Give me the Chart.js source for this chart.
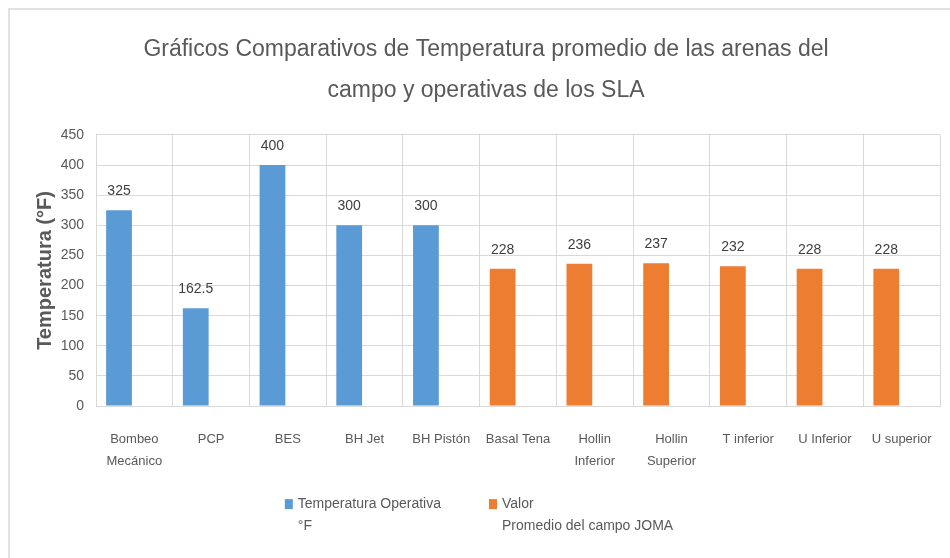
<!DOCTYPE html>
<html>
<head>
<meta charset="utf-8">
<script src="https://cdn.jsdelivr.net/npm/chart.js@4/dist/chart.umd.min.js"></script>
<style>
  html, body { margin: 0; padding: 0; background: #fff; }
  #frame {
    position: absolute; left: 8px; top: 8px; width: 960px; height: 560px;
    border-top: 2px solid #e2e2e2; border-left: 2px solid #e2e2e2;
  }
  #wrap { position: absolute; left: 0; top: 0; width: 950px; height: 558px; }
</style>
</head>
<body>
<div id="frame"></div>
<div id="wrap"><canvas id="temp-chart" width="950" height="558"></canvas></div>
<script>
const categories = [
  ["Bombeo", "Mecánico"], "PCP", "BES", "BH Jet", "BH Pistón", "Basal Tena",
  ["Hollin", "Inferior"], ["Hollin", "Superior"], "T inferior", "U Inferior", "U superior"
];
const operativa = [325, 162.5, 400, 300, 300, null, null, null, null, null, null];
const promedioCampo = [null, null, null, null, null, 228, 236, 237, 232, 228, 228];
const yTicks = [0, 50, 100, 150, 200, 250, 300, 350, 400, 450];
const titleLines = [
  "Gráficos Comparativos de Temperatura promedio de las arenas del",
  "campo y operativas de los SLA"
];
const legendTexts = [
  ["Temperatura Operativa", "°F"],
  ["Valor", "Promedio del campo JOMA"]
];

const FONT = "'Liberation Sans', Arial, sans-serif";
const GREY = "#595959";

// value labels above every bar
const barValues = {
  id: "barValues",
  afterDatasetsDraw(chart) {
    const ctx = chart.ctx;
    ctx.save();
    ctx.font = "14px " + FONT;
    ctx.fillStyle = "#404040";
    ctx.textAlign = "center";
    ctx.textBaseline = "bottom";
    chart.data.datasets.forEach((ds, i) => {
      const meta = chart.getDatasetMeta(i);
      meta.data.forEach((bar, j) => {
        const v = ds.data[j];
        if (v === null || v === undefined) return;
        ctx.fillText(String(v), bar.x, bar.y - 12);
      });
    });
    ctx.restore();
  }
};

// two-line legend under the axis (built-in legend clips the 2nd line)
const twoLineLegend = {
  id: "twoLineLegend",
  afterDraw(chart) {
    const ctx = chart.ctx;
    const gap = 48, box = 8, textGap = 5, lineH = 22;
    const top = chart.chartArea.bottom + 98;
    ctx.save();
    ctx.font = "14px " + FONT;
    const widths = legendTexts.map(
      (lines) => box + textGap + Math.max(...lines.map((l) => ctx.measureText(l).width))
    );
    const total = widths.reduce((a, b) => a + b, 0) + gap * (widths.length - 1);
    let x = chart.width / 2 + 4 - total / 2;
    ctx.textBaseline = "middle";
    ctx.textAlign = "left";
    legendTexts.forEach((lines, i) => {
      ctx.fillStyle = chart.data.datasets[i].backgroundColor;
      ctx.fillRect(x, top - 5, box, 10);
      ctx.fillStyle = GREY;
      lines.forEach((l, k) => ctx.fillText(l, x + box + textGap, top + k * lineH));
      x += widths[i] + gap;
    });
    ctx.restore();
  }
};

function createChart() {
  const canvas = document.getElementById("temp-chart");
  new Chart(canvas, {
    type: "bar",
    data: {
      labels: categories,
      datasets: [
        {
          label: legendTexts[0].join(" "),
          data: operativa,
          backgroundColor: "#5B9BD5",
          stack: "a",
        },
        {
          label: legendTexts[1].join(" "),
          data: promedioCampo,
          backgroundColor: "#ED7D31",
          stack: "a",
        },
        {
          label: "",
          data: categories.map(() => null),
          stack: "b",
        },
      ],
    },
    options: {
      responsive: false,
      animation: false,
      categoryPercentage: 0.8,
      barPercentage: 0.84,
      layout: {
        padding: { left: 22, right: 0, top: 14, bottom: 63 },
      },
      plugins: {
        tooltip: { enabled: false },
        legend: { display: false },
        title: {
          display: true,
          text: titleLines,
          color: GREY,
          font: { family: FONT, size: 23, weight: "normal", lineHeight: 1.78 },
          padding: { top: 15, bottom: 24 },
        },
      },
      scales: {
        x: {
          afterFit: (axis) => {
            axis.paddingLeft = 0;
            axis.paddingRight = 10;
          },
          grid: { color: "#d9d9d9", drawTicks: false },
          border: { color: "#d9d9d9" },
          ticks: {
            color: GREY,
            maxRotation: 0,
            autoSkip: false,
            padding: 23,
            font: { family: FONT, size: 13, lineHeight: 1.65 },
          },
        },
        y: {
          stacked: false,
          min: 0,
          max: 450,
          afterBuildTicks: (axis) => {
            axis.ticks = yTicks.map((v) => ({ value: v }));
          },
          afterFit: (axis) => {
            axis.width = 74;
          },
          grid: { color: "#d9d9d9", drawTicks: false },
          border: { display: false },
          title: {
            display: true,
            text: "Temperatura (°F)",
            color: GREY,
            font: { family: FONT, size: 20, weight: "bold" },
            padding: { top: 11, bottom: 0 },
          },
          ticks: {
            color: GREY,
            padding: 12,
            font: { family: FONT, size: 14 },
          },
        },
      },
    },
    plugins: [barValues, twoLineLegend],
  });
}

createChart();
</script>
</body>
</html>
